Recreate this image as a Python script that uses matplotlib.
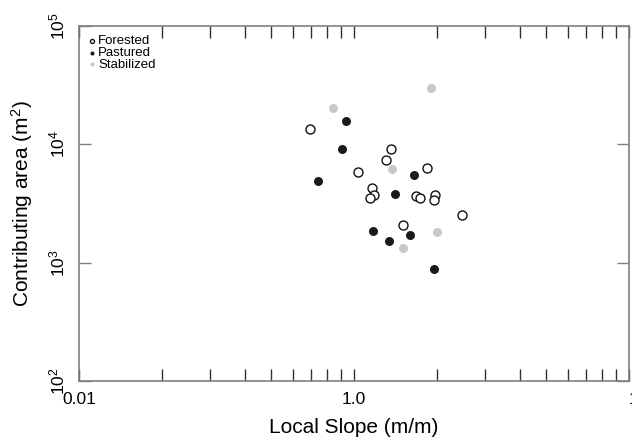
import matplotlib
matplotlib.use("Agg")
import matplotlib.pyplot as plt
from matplotlib.ticker import FixedLocator, LogLocator, NullFormatter

plt.rcParams["font.family"] = ["Liberation Sans", "DejaVu Sans"]
plt.rcParams["mathtext.fontset"] = "custom"
plt.rcParams["mathtext.rm"] = "Liberation Sans"
plt.rcParams["mathtext.it"] = "Liberation Sans:italic"

# values (slope m/m, area m^2)
forested_slope = [0.69, 1.36, 1.31, 1.03, 1.84, 1.16, 1.18, 1.14, 1.68, 1.74, 1.97, 1.95, 2.46, 1.51]
forested_area = [13500, 9160, 7440, 5860, 6300, 4290, 3750, 3540, 3630, 3490, 3730, 3400, 2510, 2100]

pastured_slope = [0.935, 0.904, 0.74, 1.65, 1.41, 1.17, 1.34, 1.60, 1.95]
pastured_area = [15800, 9160, 4920, 5560, 3770, 1860, 1530, 1710, 885]

stabilized_slope = [1.90, 0.84, 1.38, 2.01, 1.51]
stabilized_area = [30150, 20300, 6210, 1830, 1320]

x_ticks = [0.1, 1, 10]
x_tick_labels = ["0.01", "1.0", "10"]
y_ticks = [1e2, 1e3, 1e4, 1e5]

spine_col = "#808080"

fig = plt.figure(figsize=(6.32, 4.41), dpi=100)
ax = fig.add_axes([0.125, 0.136, 0.8703, 0.805])

ax.scatter(forested_slope, forested_area, s=42, facecolors="white",
           edgecolors="#111111", linewidths=1.0, label="Forested", zorder=3)
ax.scatter(pastured_slope, pastured_area, s=42, color="#1a1a1a",
           linewidths=0, label="Pastured", zorder=3)
ax.scatter(stabilized_slope, stabilized_area, s=42, color="#c8c8c8",
           linewidths=0, label="Stabilized", zorder=3)

ax.set_xscale("log")
ax.set_yscale("log")
ax.set_xlim(0.1, 10)
ax.set_ylim(1e2, 1e5)

ax.xaxis.set_major_locator(FixedLocator(x_ticks))
ax.set_xticklabels(x_tick_labels)
ax.xaxis.set_minor_locator(LogLocator(base=10, subs=range(2, 10)))
ax.xaxis.set_minor_formatter(NullFormatter())
ax.yaxis.set_major_locator(FixedLocator(y_ticks))
ax.yaxis.set_minor_locator(FixedLocator([]))
# the right-hand label runs off the edge in the original too
ax.get_xticklabels()[-1].set_horizontalalignment("left")

ax.tick_params(which="both", direction="in", length=8.3, width=1.0,
               top=True, right=True, labelsize=12.5, color="#333333")
ax.tick_params(axis="x", pad=8)
ax.tick_params(axis="y", labelrotation=90, pad=8, color=spine_col)
for lab in ax.get_yticklabels():
    lab.set_verticalalignment("center")

for sp in ax.spines.values():
    sp.set_color(spine_col)
    sp.set_linewidth(1.2)

ax.set_xlabel("Local Slope (m/m)", fontsize=15, labelpad=8)
ax.set_ylabel("Contributing area (m$^2$)", fontsize=15, labelpad=9)

leg = ax.legend(loc="upper left", frameon=False, fontsize=9.5,
                markerscale=0.45, handletextpad=0.15, labelspacing=-0.05,
                borderpad=0.7, borderaxespad=0.0, handlelength=0.6)

fig.savefig("out.png", dpi=100)
